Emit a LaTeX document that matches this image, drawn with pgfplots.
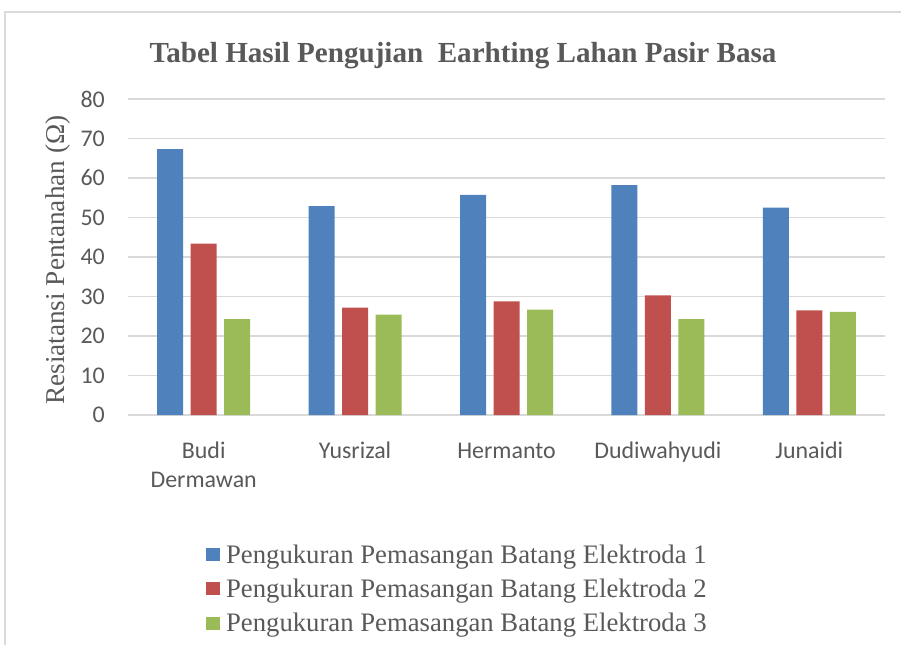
\documentclass[border=0pt]{standalone}
\usepackage{pgfplots}
\pgfplotsset{compat=1.18}
\usepackage{fontspec}
\setmainfont{Liberation Serif}
\newfontfamily\calibri{Carlito}
\definecolor{c1}{HTML}{4F81BD}
\definecolor{c2}{HTML}{C0504D}
\definecolor{c3}{HTML}{9BBB59}
\definecolor{txt}{HTML}{595959}
\definecolor{gridc}{HTML}{D9D9D9}
\begin{document}
\begin{tikzpicture}
\path[use as bounding box] (0bp,0bp) rectangle (901bp,-645bp);
\draw[gridc, line width=1.5bp] (5bp,-645bp) -- (5bp,-12bp) -- (901bp,-12bp);
\node[font=\fontsize{29.2}{34}\selectfont\bfseries, text=txt, anchor=base] at (463bp,-62bp) {Tabel Hasil Pengujian\ \ Earhting Lahan Pasir Basa};
\begin{axis}[
  at={(128bp,-415bp)}, anchor=south west,
  scale only axis, width=757bp, height=316bp,
  ymin=0, ymax=80, ytick={0,10,...,80},
  xmin=-0.5, xmax=4.5, xtick={0,1,2,3,4},
  xticklabels={{\strut Budi\\Dermawan},{\strut Yusrizal},{\strut Hermanto},{\strut Dudiwahyudi},{\strut Junaidi}},
  ybar=7.5bp, bar width=26bp,
  axis line style={draw=none},
  ymajorgrids, grid style={gridc, line width=1.3bp},
  major tick style={draw=none},
  /pgf/number format/assume math mode=true,
  tick label style={font=\calibri\fontsize{24}{29}\selectfont, text=txt},
  yticklabel style={anchor=east, inner sep=0pt, xshift=-23bp},
  xticklabel style={anchor=north, inner sep=0pt, align=center, yshift=-18.7bp},
  ylabel={Resiatansi Pentanahan (Ω)},
  ylabel style={font=\fontsize{27.3}{31}\selectfont, text=txt, at={(axis description cs:-0.0925,0.49)}, anchor=center},
  legend style={draw=none, fill=none, font=\fontsize{26.8}{32}\selectfont, text=txt,
    at={(axis description cs:0.099,-0.398)}, anchor=north west, row sep=10bp,
    nodes={inner sep=2bp},
    /tikz/every odd column/.append style={column sep=4bp}},
  legend cell align=left,
  legend image code/.code={\draw[#1,draw=none] (-1bp,-6.5bp) rectangle (13bp,6.5bp);},
]
\addplot[fill=c1, draw=none] coordinates {(0,67.3) (1,52.9) (2,55.7) (3,58.2) (4,52.5)};
\addplot[fill=c2, draw=none] coordinates {(0,43.4) (1,27.2) (2,28.8) (3,30.3) (4,26.5)};
\addplot[fill=c3, draw=none] coordinates {(0,24.3) (1,25.4) (2,26.7) (3,24.3) (4,26.1)};
\legend{Pengukuran Pemasangan Batang Elektroda 1,Pengukuran Pemasangan Batang Elektroda 2,Pengukuran Pemasangan Batang Elektroda 3}
\end{axis}
\end{tikzpicture}
\end{document}
